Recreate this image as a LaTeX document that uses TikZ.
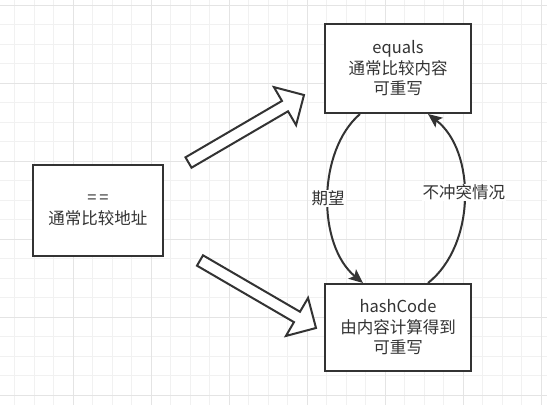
\documentclass[tikz,border=0pt]{standalone}
\usepackage{fontspec}
\setmainfont{Noto Sans CJK SC}
\usetikzlibrary{calc,arrows.meta,positioning}
\definecolor{ink}{HTML}{333333}
\definecolor{gridminor}{HTML}{F1F1F1}
\definecolor{gridmajor}{HTML}{E4E4E4}

\begin{document}
\begin{tikzpicture}[x=1pt,y=-1pt,
    box/.style={draw=ink,line width=2pt,fill=white,text=ink,align=center,
      font=\fontsize{16.5}{20.5}\selectfont,inner sep=0pt},
    bigarrow/.style={draw=ink,line width=2pt,fill=white,line join=miter},
    curved/.style={draw=ink,line width=2pt,-{Stealth[length=14pt,width=12pt,inset=3pt]}},
    lbl/.style={fill=white,text=ink,font=\fontsize{16.5}{20}\selectfont,inner sep=1pt}]
      \fill[white] (0,0) rectangle (547,405);
      \useasboundingbox (0,0) rectangle (547,405);
      % grid
      \foreach \i in {0,...,27} \draw[gridminor,line width=1pt] ({14.5+19.5*\i},0) -- ({14.5+19.5*\i},405);
      \foreach \i in {0,...,20} \draw[gridminor,line width=1pt] (0,{5.3+19.5*\i}) -- (547,{5.3+19.5*\i});
      \foreach \i in {0,...,6} \draw[gridmajor,line width=1pt] ({73+78*\i},0) -- ({73+78*\i},405);
      \foreach \i in {0,...,5} \draw[gridmajor,line width=1pt] (0,{5.3+78*\i}) -- (547,{5.3+78*\i});
      % boxes
      \node[box,minimum width=130pt,minimum height=91pt] (eqop) at (98,210.5) {=\kern3pt=\\通常比较地址};
      \node[box,minimum width=146pt,minimum height=89pt] (equals) at (398,68.5) {equals\\通常比较内容\\可重写};
      \node[box,minimum width=146pt,minimum height=87pt] (hashcode) at (398,327.5) {hashCode\\由内容计算得到\\可重写};
      % big arrows
      \coordinate (tailup) at ($(eqop.north east)+(24.5,-1.5)$);
      \coordinate (tipup) at ($(equals.west)+(-20,26.5)$);
      \coordinate (taildown) at ($(eqop.south east)+(36,3.5)$);
      \coordinate (tipdown) at ($(hashcode.west)+(-8,0.5)$);
      \foreach \s/\t in {tailup/tipup,taildown/tipdown}{
        \coordinate (h) at ($(\t)!22pt!(\s)$);
        \draw[bigarrow] ($(\s)!6pt!90:(\t)$) -- ($(h)!6pt!90:(\t)$) -- ($(h)!22pt!90:(\t)$)
          -- (\t) -- ($(h)!22pt!-90:(\t)$) -- ($(h)!6pt!-90:(\t)$) -- ($(\s)!6pt!-90:(\t)$) -- cycle;
      }
      % curved arrows
      \draw[curved] ([xshift=-38pt]equals.south) .. controls +(-43,37) and +(-46,-38) ..
        node[lbl,pos=0.5] (expect) {期望} ([xshift=-35pt]hashcode.north);
      \draw[curved] ([xshift=30pt]hashcode.north) .. controls +(48,-38) and +(48,37) ..
        node[lbl,pos=0.53] (noclash) {不冲突情况} ([xshift=30pt]equals.south);
    \end{tikzpicture}
\end{document}
